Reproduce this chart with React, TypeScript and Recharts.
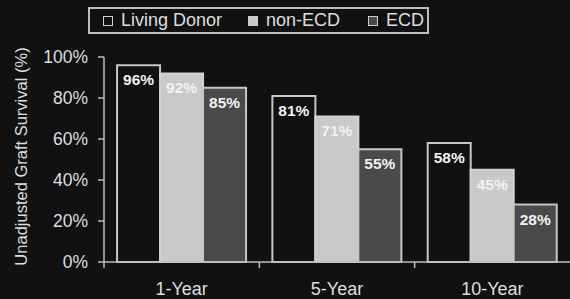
import React from 'react';
import { BarChart, Bar, XAxis, YAxis, LabelList } from 'recharts';

const categories = ['1-Year', '5-Year', '10-Year'];
const livingDonor = [96, 81, 58];
const nonECD = [92, 71, 45];
const ecd = [85, 55, 28];
const yTicks = [0, 20, 40, 60, 80, 100];
const seriesNames = ['Living Donor', 'non-ECD', 'ECD'];
const yLabel = 'Unadjusted Graft Survival (%)';

const data = categories.map((c, i) => ({
  cat: c,
  ld: livingDonor[i],
  non: nonECD[i],
  ecd: ecd[i],
}));

const FONT = '"Liberation Sans", Arial, Helvetica, sans-serif';
const AXIS = '#bdbdbd';
const TEXT = '#dedede';
const BG = '#111111';
const fills = ['#111111', '#c9c9c9', '#4a4a4a'];

const W = 570;
const H = 299;
const Y_W = 104;
const halfBand = (W - Y_W) / categories.length / 2;

const XTick = (props: any) => {
  const { x, y, payload } = props;
  return (
    <g>
      <line x1={x - halfBand} x2={x - halfBand} y1={y} y2={y + 6} stroke={AXIS} strokeWidth={1.5} />
      <text x={x} y={y + 33} textAnchor="middle" fill={TEXT} fontSize={18} fontFamily={FONT}>
        {payload.value}
      </text>
    </g>
  );
};

const YLabel = (props: any) => {
  const vb = props.viewBox || { x: 0, y: 57, width: 104, height: 205 };
  const cx = 21;
  const cy = vb.y + vb.height / 2 - 3;
  return (
    <text
      x={cx}
      y={cy}
      transform={`rotate(-90 ${cx} ${cy})`}
      textAnchor="middle"
      dominantBaseline="central"
      fill={TEXT}
      fontSize={16.5}
      fontFamily={FONT}
    >
      {yLabel}
    </text>
  );
};

const LegendBox = () => (
  <div
    style={{
      position: 'absolute',
      left: 88,
      top: 7,
      width: 341,
      height: 27,
      boxSizing: 'border-box',
      border: `2px solid ${AXIS}`,
      background: BG,
      display: 'flex',
      alignItems: 'center',
      paddingLeft: 13,
      fontFamily: FONT,
      fontSize: 18,
      color: TEXT,
      whiteSpace: 'nowrap',
    }}
  >
    {seriesNames.map((n, i) => (
      <div key={n} style={{ display: 'flex', alignItems: 'center', marginRight: i === 0 ? 26 : 28 }}>
        <div
          style={{
            width: 10,
            height: 10,
            boxSizing: 'border-box',
            border: `1.5px solid #cfcfcf`,
            background: fills[i],
            marginRight: 8,
          }}
        />
        <span>{n}</span>
      </div>
    ))}
  </div>
);

const labelProps = {
  position: 'insideTop' as const,
  offset: 9,
  fill: '#f2f2f2',
  fontSize: 15.5,
  fontWeight: 'bold' as const,
  fontFamily: FONT,
  formatter: (v: any) => `${v}%`,
};

export default function App() {
  return (
    <div style={{ position: 'absolute', left: 0, top: 0, width: W, height: H, background: BG, overflow: 'hidden' }}>
      <BarChart
        width={W}
        height={H}
        data={data}
        margin={{ top: 57, right: 0, left: 0, bottom: 0 }}
        barCategoryGap="8.4%"
        barGap={0}
      >
        <XAxis
          dataKey="cat"
          height={37}
          tickLine={false}
          tickSize={0}
          tickMargin={0}
          axisLine={{ stroke: AXIS, strokeWidth: 1.5 }}
          tick={<XTick />}
          interval={0}
        />
        <YAxis
          width={Y_W}
          domain={[0, 100]}
          ticks={yTicks}
          tickFormatter={(v: number) => `${v}%`}
          axisLine={{ stroke: AXIS, strokeWidth: 1.5 }}
          tickLine={{ stroke: AXIS, strokeWidth: 1.5 }}
          tickSize={6}
          tickMargin={10}
          tick={{ fill: TEXT, fontSize: 17.5, fontFamily: FONT }}
          label={<YLabel />}
        />
        <Bar dataKey="ld" fill={fills[0]} stroke="#c6c6c6" strokeWidth={2} isAnimationActive={false}>
          <LabelList dataKey="ld" {...labelProps} />
        </Bar>
        <Bar dataKey="non" fill={fills[1]} stroke="#d2d2d2" strokeWidth={2} isAnimationActive={false}>
          <LabelList dataKey="non" {...labelProps} />
        </Bar>
        <Bar dataKey="ecd" fill={fills[2]} stroke="#c6c6c6" strokeWidth={2} isAnimationActive={false}>
          <LabelList dataKey="ecd" {...labelProps} />
        </Bar>
      </BarChart>
      <LegendBox />
    </div>
  );
}
